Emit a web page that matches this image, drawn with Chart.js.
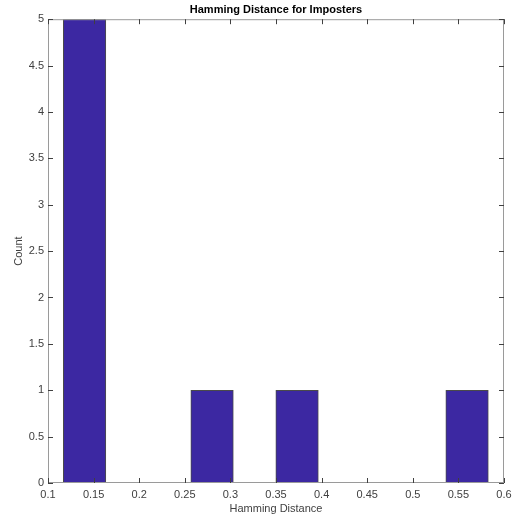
<!DOCTYPE html>
<html>
<head>
<meta charset="utf-8">
<script src="https://cdn.jsdelivr.net/npm/chart.js@4/dist/chart.umd.min.js"></script>
<style>
  html, body { margin: 0; padding: 0; background: #fff; }
  #wrap { width: 513px; height: 518px; }
</style>
</head>
<body>
<div id="wrap"><canvas id="grafico"></canvas></div>
<script>
// bordas dos bins do histograma
const binEdges = [0.1168, 0.1634, 0.2100, 0.2566, 0.3032, 0.3498, 0.3964, 0.4430, 0.4896, 0.5362, 0.5828];
const counts = [5, 0, 0, 1, 0, 1, 0, 0, 0, 1];
const xTicks = [0.1, 0.15, 0.2, 0.25, 0.3, 0.35, 0.4, 0.45, 0.5, 0.55, 0.6];
const yTicks = [0, 0.5, 1, 1.5, 2, 2.5, 3, 3.5, 4, 4.5, 5];

const pontos = counts.map((c, i) => ({ x: (binEdges[i] + binEdges[i + 1]) / 2, y: c }));

const fonte = "'Liberation Sans', Arial, sans-serif";

// desenha a moldura e os ticks para dentro, estilo MATLAB
const moldura = {
  id: "moldura",
  afterDraw(chart) {
    const { ctx, chartArea: a, scales } = chart;
    ctx.save();
    ctx.strokeStyle = "#9a9a9a";
    ctx.lineWidth = 1;
    ctx.strokeRect(a.left + 0.5, a.top + 0.5, a.right - a.left - 1, a.bottom - a.top - 1);
    ctx.strokeStyle = "#404040";
    ctx.beginPath();
    xTicks.forEach((v) => {
      const px = Math.round(scales.x.getPixelForValue(v)) + 0.5;
      ctx.moveTo(px, a.bottom); ctx.lineTo(px, a.bottom - 5);
      ctx.moveTo(px, a.top); ctx.lineTo(px, a.top + 5);
    });
    yTicks.forEach((v) => {
      const py = Math.round(scales.y.getPixelForValue(v)) + 0.5;
      ctx.moveTo(a.left, py); ctx.lineTo(a.left + 5, py);
      ctx.moveTo(a.right, py); ctx.lineTo(a.right - 5, py);
    });
    ctx.stroke();
    ctx.restore();
  },
};

const ctx = document.getElementById("grafico").getContext("2d");
new Chart(ctx, {
  type: "bar",
  data: {
    datasets: [
      {
        label: "Count",
        data: pontos,
        backgroundColor: "#3c28a2",
        borderColor: "#4a4a4a",
        borderWidth: pontos.map((p) => (p.y > 0 ? 1 : 0)),
        borderSkipped: false,
        barPercentage: 1,
        categoryPercentage: 1,
      },
    ],
  },
  options: {
    responsive: true,
    maintainAspectRatio: false,
    animation: false,
    layout: { padding: { left: 0, right: 9, top: 0, bottom: 0 } },
    plugins: {
      legend: { display: false },
      tooltip: { enabled: false },
      title: {
        display: true,
        fullSize: false, // centraliza sobre a área do gráfico
        text: "Hamming Distance for Imposters",
        color: "#000",
        font: { family: fonte, size: 11, weight: "bold" },
        padding: { top: 3, bottom: 3 },
      },
    },
    scales: {
      x: {
        type: "linear",
        min: 0.1,
        max: 0.6,
        offset: false,
        grid: { display: false, drawTicks: false },
        border: { display: false },
        afterBuildTicks: (s) => { s.ticks = xTicks.map((v) => ({ value: v })); },
        afterFit: (s) => { s.height = 35; s.paddingRight = 0; s.paddingLeft = 0; },
        ticks: {
          autoSkip: false,
          maxRotation: 0,
          padding: 5,
          color: "#404040",
          font: { family: fonte, size: 11 },
          callback: (v) => String(v),
        },
        title: {
          display: true,
          text: "Hamming Distance",
          color: "#404040",
          font: { family: fonte, size: 11 },
          padding: { top: 0, bottom: 2 },
        },
      },
      y: {
        min: 0,
        max: 5,
        grid: { display: false, drawTicks: false },
        border: { display: false },
        afterBuildTicks: (s) => { s.ticks = yTicks.map((v) => ({ value: v })); },
        afterFit: (s) => { s.width = 48; s.paddingTop = 0; s.paddingBottom = 0; },
        ticks: {
          autoSkip: false,
          padding: 4,
          color: "#404040",
          font: { family: fonte, size: 11 },
          callback: (v) => String(v),
        },
        title: {
          display: true,
          text: "Count",
          color: "#404040",
          font: { family: fonte, size: 11 },
          padding: { top: 12, bottom: 0 },
        },
      },
    },
  },
  plugins: [moldura],
});
</script>
</body>
</html>
